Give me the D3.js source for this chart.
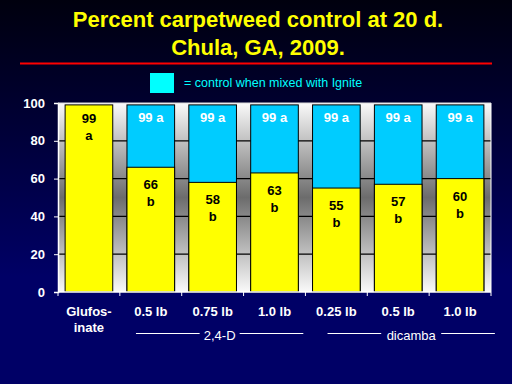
<!DOCTYPE html>
<html>
<head>
<meta charset="utf-8">
<script src="https://cdn.jsdelivr.net/npm/d3@7"></script>
<style>
  html, body { margin: 0; padding: 0; background: #000066; }
  svg { display: block; }
</style>
</head>
<body>
<svg></svg>
<script>
// data
const categories = ["Glufosinate", "2,4-D 0.5", "2,4-D 0.75", "2,4-D 1.0", "dicamba 0.25", "dicamba 0.5", "dicamba 1.0"];
const catLabels = [["Glufos-", "inate"], ["0.5 lb"], ["0.75 lb"], ["1.0 lb"], ["0.25 lb"], ["0.5 lb"], ["1.0 lb"]];
const alone = [99, 66, 58, 63, 55, 57, 60];
const aloneLetter = ["a", "b", "b", "b", "b", "b", "b"];
const mixed = [null, 99, 99, 99, 99, 99, 99];
const mixedLabel = [null, "99 a", "99 a", "99 a", "99 a", "99 a", "99 a"];
const yTicks = [0, 20, 40, 60, 80, 100];
const groups = [
  { name: "2,4-D", from: 1, to: 3 },
  { name: "dicamba", from: 4, to: 6 }
];

const width = 512, height = 384;
const margin = { left: 58, right: 21, top: 103, bottom: 92 };
const font = "Liberation Sans, Arial, sans-serif";

const svg = d3.select("svg").attr("width", width).attr("height", height);
const defs = svg.append("defs");

// page background
const bg = defs.append("linearGradient").attr("id", "bg")
  .attr("x1", 0).attr("y1", 0).attr("x2", 0).attr("y2", 1);
bg.append("stop").attr("offset", "0%").attr("stop-color", "#00000e");
bg.append("stop").attr("offset", "72%").attr("stop-color", "#000066");
bg.append("stop").attr("offset", "100%").attr("stop-color", "#000066");
svg.append("rect").attr("width", width).attr("height", height).attr("fill", "url(#bg)");

// plot background
const pg = defs.append("linearGradient").attr("id", "plotbg")
  .attr("x1", 0).attr("y1", 0).attr("x2", 0).attr("y2", 1);
pg.append("stop").attr("offset", "0%").attr("stop-color", "#fafafa");
pg.append("stop").attr("offset", "50%").attr("stop-color", "#6c6c6c");
pg.append("stop").attr("offset", "100%").attr("stop-color", "#fafafa");

// titre
svg.append("text").attr("x", 258).attr("y", 27).attr("text-anchor", "middle")
  .attr("font-family", font).attr("font-weight", "bold")
  .attr("font-size", 22).attr("fill", "#ffff00").text("Percent carpetweed control at 20 d.");
svg.append("text").attr("x", 258).attr("y", 55).attr("text-anchor", "middle")
  .attr("font-family", font).attr("font-weight", "bold")
  .attr("font-size", 22).attr("fill", "#ffff00").text("Chula, GA, 2009.");
svg.append("rect").attr("x", 20).attr("y", 62.5).attr("width", 472).attr("height", 2).attr("fill", "#ff0000");

// legende
svg.append("rect").attr("x", 150).attr("y", 73).attr("width", 24).attr("height", 20).attr("fill", "#00ffff");
svg.append("text").attr("x", 184).attr("y", 87)
  .attr("font-family", font).attr("font-size", 12.5)
  .attr("fill", "#00ffff").text("= control when mixed with Ignite");

// scales
const x = d3.scaleBand().domain(categories)
  .range([margin.left, width - margin.right]).paddingInner(0.23).paddingOuter(0.115);
const y = d3.scaleLinear().domain([0, 100]).range([height - margin.bottom, margin.top]);

svg.append("rect").attr("x", margin.left).attr("y", y(100))
  .attr("width", width - margin.right - margin.left).attr("height", y(0) - y(100))
  .attr("fill", "url(#plotbg)");

// grid
svg.append("g").selectAll("line").data(yTicks.slice(1, 5)).join("line")
  .attr("x1", margin.left).attr("x2", width - margin.right)
  .attr("y1", d => y(d)).attr("y2", d => y(d))
  .attr("stroke", "#000").attr("stroke-width", 1.2);

// barres
const bars = svg.append("g");
bars.selectAll("rect.mix").data(categories.filter((c, i) => mixed[i] != null)).join("rect")
  .attr("class", "mix")
  .attr("x", d => x(d)).attr("width", x.bandwidth())
  .attr("y", d => y(mixed[categories.indexOf(d)]))
  .attr("height", d => y(0) - y(mixed[categories.indexOf(d)]))
  .attr("fill", "#00ccff").attr("stroke", "#000").attr("stroke-width", 1);
bars.selectAll("rect.alone").data(categories).join("rect")
  .attr("class", "alone")
  .attr("x", d => x(d)).attr("width", x.bandwidth())
  .attr("y", (d, i) => y(alone[i]))
  .attr("height", (d, i) => y(0) - y(alone[i]))
  .attr("fill", "#ffff00").attr("stroke", "#000").attr("stroke-width", 1);

// etiquettes
const lab = svg.append("g").attr("font-family", font)
  .attr("font-weight", "bold").attr("text-anchor", "middle");
categories.forEach((c, i) => {
  const cx = x(c) + x.bandwidth() / 2;
  const top = y(alone[i]);
  const off = i === 0 ? 13 : 17;
  lab.append("text").attr("x", cx).attr("y", top + off + 5).attr("font-size", 13)
    .attr("fill", "#000").text(alone[i]);
  lab.append("text").attr("x", cx).attr("y", top + off + 22).attr("font-size", 13)
    .attr("fill", "#000").text(aloneLetter[i]);
  if (mixed[i] != null) {
    lab.append("text").attr("x", cx).attr("y", y(mixed[i]) + 17).attr("font-size", 13)
      .attr("fill", "#ffffff").text(mixedLabel[i]);
  }
});

// axes
const yAxis = svg.append("g").attr("transform", `translate(${margin.left},0)`)
  .call(d3.axisLeft(y).tickValues(yTicks).tickSize(4).tickPadding(9));
yAxis.select(".domain").attr("stroke", "#fff").attr("stroke-width", 1.5);
yAxis.selectAll(".tick line").attr("stroke", "#fff");
yAxis.selectAll("text").attr("fill", "#fff").attr("font-size", 13).attr("font-weight", "bold")
  .attr("font-family", font);

const xb = svg.append("g").attr("transform", `translate(0,${y(0)})`);
xb.append("line").attr("x1", margin.left).attr("x2", width - margin.right)
  .attr("stroke", "#fff").attr("stroke-width", 1.5);
d3.range(categories.length + 1).forEach(i => {
  const tx = margin.left + i * (width - margin.right - margin.left) / categories.length;
  xb.append("line").attr("x1", tx).attr("x2", tx).attr("y1", 0).attr("y2", 4)
    .attr("stroke", "#fff");
});
svg.append("line").attr("x1", width - margin.right).attr("x2", width - margin.right)
  .attr("y1", y(100)).attr("y2", y(0)).attr("stroke", "#fff").attr("stroke-width", 1);
svg.append("line").attr("x1", margin.left).attr("x2", width - margin.right)
  .attr("y1", y(100)).attr("y2", y(100)).attr("stroke", "#ddd").attr("stroke-width", 1);

// categories
const xl = svg.append("g").attr("font-family", font)
  .attr("font-weight", "bold").attr("font-size", 13).attr("fill", "#fff").attr("text-anchor", "middle");
categories.forEach((c, i) => {
  catLabels[i].forEach((t, j) => {
    xl.append("text").attr("x", x(c) + x.bandwidth() / 2).attr("y", y(0) + 24 + j * 16).text(t);
  });
});

// groupes (le trait de dicamba est decale vers la droite dans l'original)
const gl = svg.append("g");
const ext = [[9, 5], [15, 11]];
groups.forEach((g, k) => {
  const x0 = x(categories[g.from]) + ext[k][0];
  const x1 = x(categories[g.to]) + x.bandwidth() + ext[k][1];
  const cx = (x0 + x1) / 2;
  const half = k === 0 ? 18 : 28;
  gl.append("line").attr("x1", x0).attr("x2", cx - half - 2).attr("y1", 333.5).attr("y2", 333.5)
    .attr("stroke", "#fff");
  gl.append("line").attr("x1", cx + half + 2).attr("x2", x1).attr("y1", 333.5).attr("y2", 333.5)
    .attr("stroke", "#fff");
  gl.append("text").attr("x", cx).attr("y", 340).attr("text-anchor", "middle")
    .attr("font-family", font).attr("font-size", 13)
    .attr("fill", "#fff").text(g.name);
});
</script>
</body>
</html>
